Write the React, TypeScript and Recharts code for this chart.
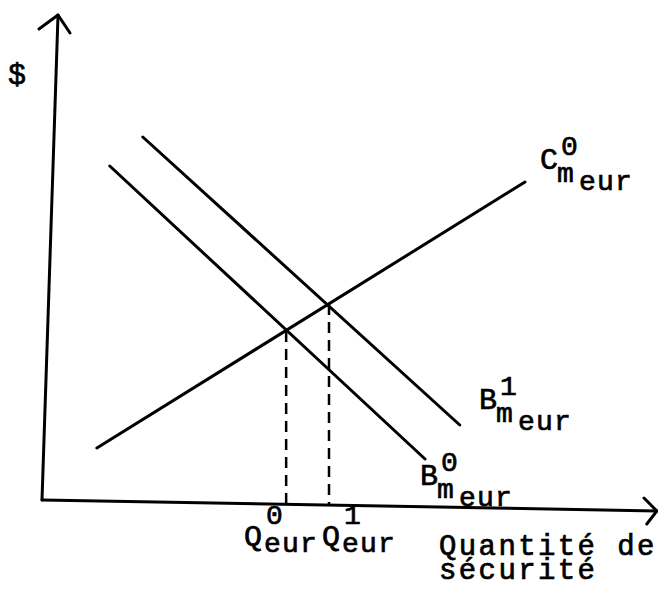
import React from "react";
import { ComposedChart, Line, XAxis, YAxis, Customized } from "recharts";

// Supply curve C^0_meur (quantity, price)
const supplyC0 = [
  { x: 9.8, y: 10.4 },
  { x: 86.25, y: 63.6 },
];
// Demand curve B^0_meur
const demandB0 = [
  { x: 12.1, y: 66.8 },
  { x: 68.4, y: 8.2 },
];
// Demand curve B^1_meur
const demandB1 = [
  { x: 18.0, y: 72.6 },
  { x: 74.6, y: 15.0 },
];
// Equilibria Q^0_eur and Q^1_eur (quantity, price)
const equilibriumQ0 = [
  { x: 43.6, y: 33.8 },
  { x: 43.6, y: -0.9 },
];
const equilibriumQ1 = [
  { x: 51.25, y: 39.2 },
  { x: 51.25, y: -1.0 },
];

// Axis geometry (hand-drawn axes with arrowheads)
const yAxisLine = [
  { x: 0, y: 0 },
  { x: 2.86, y: 97 },
];
const yArrow = [
  { x: -0.54, y: 94.2 },
  { x: 2.86, y: 97 },
  { x: 5.0, y: 93.4 },
];
const xAxisLine = [
  { x: 0, y: 0 },
  { x: 109.8, y: -2.2 },
];
const xArrow = [
  { x: 107.5, y: 0.4 },
  { x: 109.8, y: -2.2 },
  { x: 108.0, y: -4.8 },
];

const FONT = "'Liberation Mono', 'DejaVu Sans Mono', monospace";

const textStyle = {
  fontFamily: FONT,
  fill: "#000",
  stroke: "#000",
  strokeWidth: 0.7,
};

// base letter + superscript + subscript "m" + "eur"
const CurveLabel = ({ x, y, base, sup }: any) => (
  <text {...textStyle} fontSize={28} letterSpacing={1.2}>
    <tspan x={x} y={y} fontSize={30}>{base}</tspan>
    <tspan x={x + 21} y={y - 14}>{sup}</tspan>
    <tspan x={x + 17} y={y + 13}>m</tspan>
    <tspan x={x + 39} y={y + 21}>eur</tspan>
  </text>
);

const QLabel = ({ x, y, sup }: any) => (
  <text {...textStyle} fontSize={28} letterSpacing={1.2}>
    <tspan x={x} y={y} fontSize={30}>Q</tspan>
    <tspan x={x + 22} y={y - 22}>{sup}</tspan>
    <tspan x={x + 20} y={y + 6}>eur</tspan>
  </text>
);

const Labels = () => (
  <g>
    <text {...textStyle} x={8} y={84} fontSize={30}>$</text>
    <CurveLabel x={540} y={169} base="C" sup="0" />
    <CurveLabel x={479} y={409} base="B" sup="1" />
    <CurveLabel x={420} y={485} base="B" sup="0" />
    <QLabel x={244} y={546} sup="0" />
    <QLabel x={322} y={546} sup="1" />
    <text {...textStyle} fontSize={29} letterSpacing={2.4}>
      <tspan x={439} y={555}>Quantité de</tspan>
      <tspan x={439} y={579}>sécurité</tspan>
    </text>
  </g>
);

const lineProps = {
  type: "linear" as const,
  dataKey: "y",
  stroke: "#000",
  strokeWidth: 3,
  dot: false,
  activeDot: false,
  isAnimationActive: false,
  strokeLinecap: "round" as const,
  strokeLinejoin: "round" as const,
};

export default function App() {
  return (
    <div style={{ position: "absolute", left: 0, top: 0, background: "#fff" }}>
      <ComposedChart
        width={658}
        height={590}
        margin={{ top: 0, right: 0, bottom: 0, left: 0 }}
      >
        <XAxis type="number" dataKey="x" domain={[-7.5, 110]} hide />
        <YAxis type="number" dataKey="y" domain={[-18, 100]} hide />
        <Line {...lineProps} data={yAxisLine} />
        <Line {...lineProps} data={yArrow} />
        <Line {...lineProps} data={xAxisLine} />
        <Line {...lineProps} data={xArrow} />
        <Line {...lineProps} data={supplyC0} />
        <Line {...lineProps} data={demandB0} />
        <Line {...lineProps} data={demandB1} />
        <Line {...lineProps} data={equilibriumQ0} strokeWidth={2.5} strokeDasharray="11 7" strokeLinecap="butt" />
        <Line {...lineProps} data={equilibriumQ1} strokeWidth={2.5} strokeDasharray="11 7" strokeLinecap="butt" />
        <Customized component={Labels} />
      </ComposedChart>
    </div>
  );
}
